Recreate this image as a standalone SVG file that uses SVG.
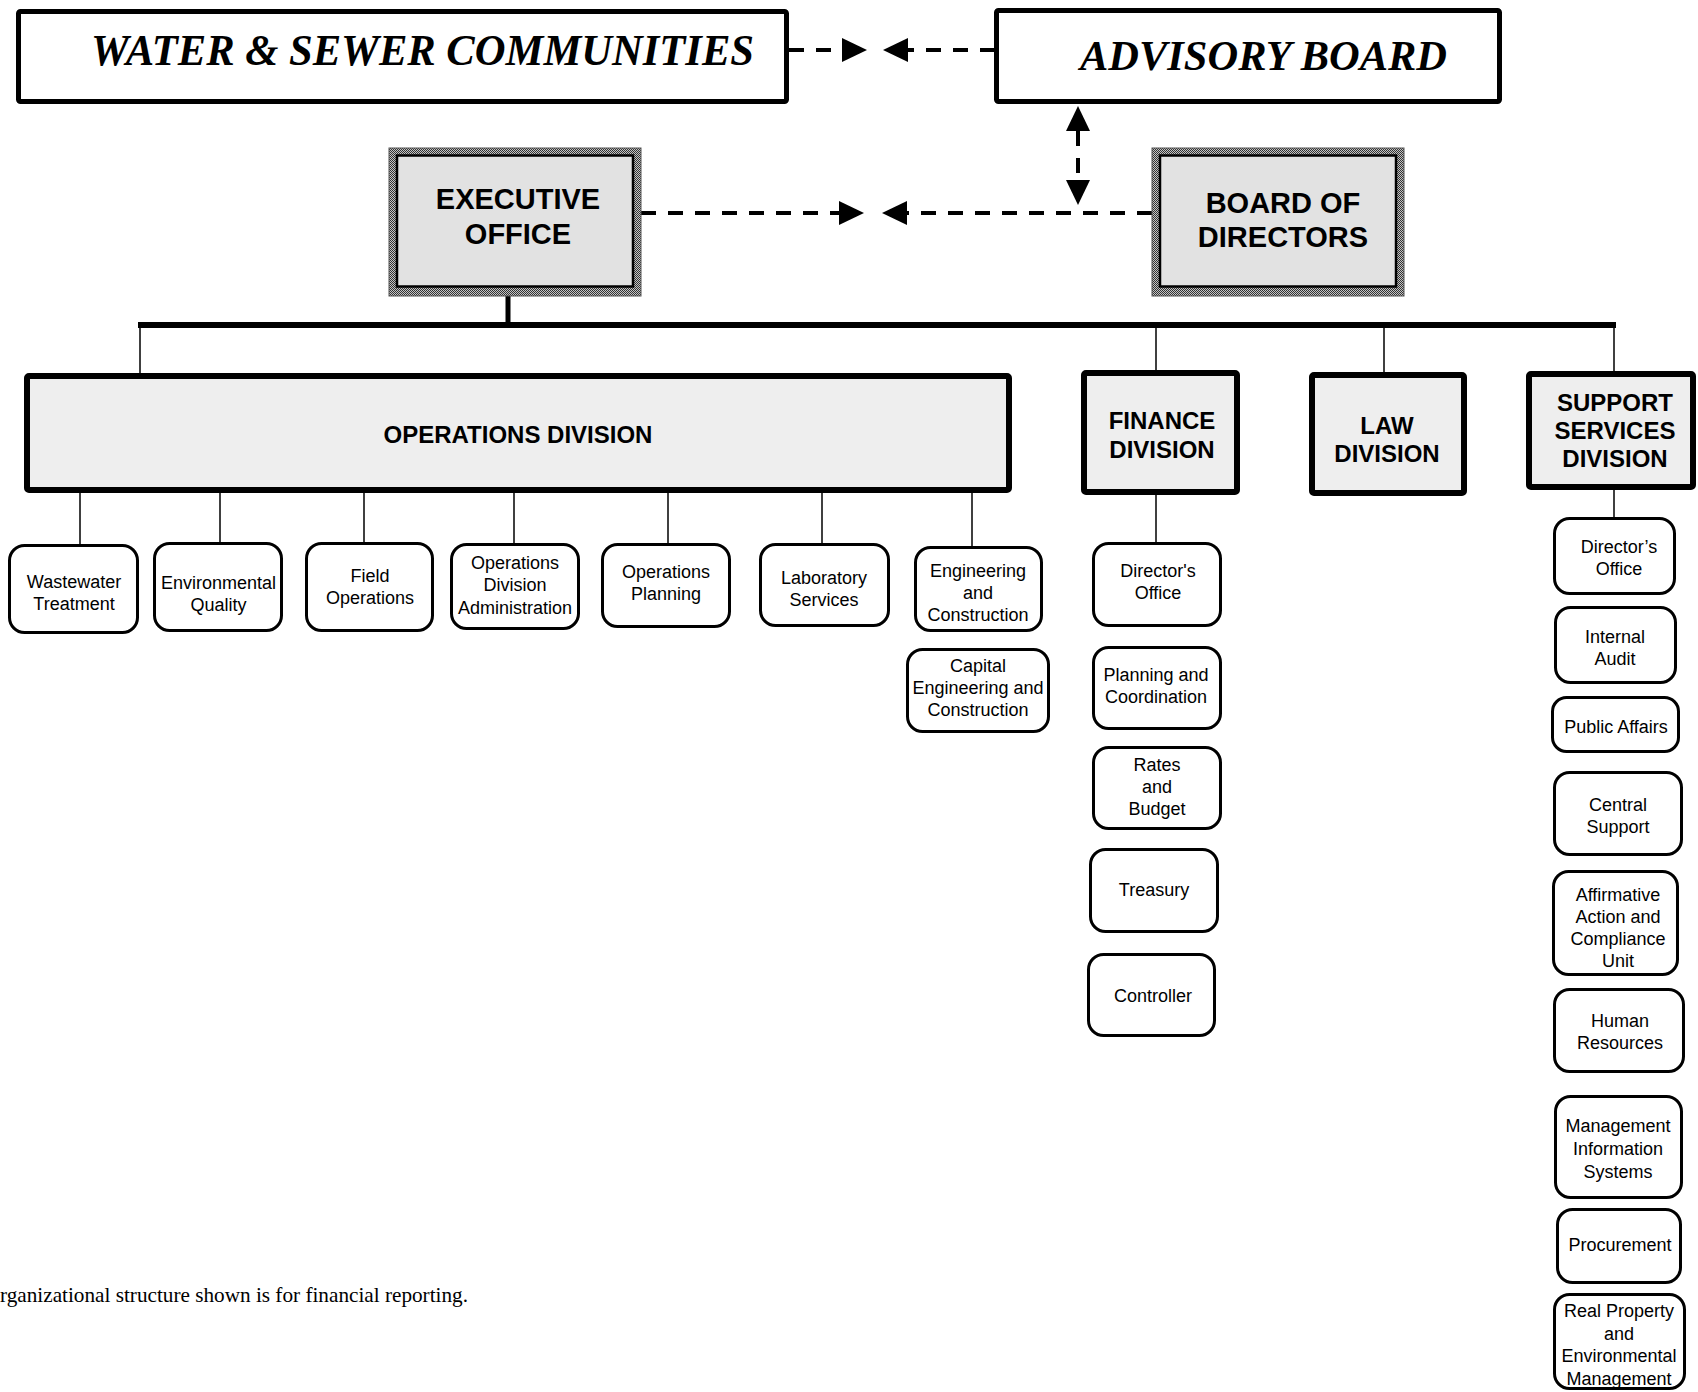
<svg xmlns="http://www.w3.org/2000/svg" width="1698" height="1392" viewBox="0 0 1698 1392">
<style>
.title{font-family:"Liberation Serif","Times New Roman",serif;font-weight:bold;font-style:italic;fill:#000}
.big{font-family:"Liberation Sans",Arial,sans-serif;font-weight:bold;font-size:29px;text-anchor:middle;fill:#000}
.div{font-family:"Liberation Sans",Arial,sans-serif;font-weight:bold;font-size:24px;text-anchor:middle;fill:#000}
.sub{font-family:"Liberation Sans",Arial,sans-serif;font-size:18px;text-anchor:middle;fill:#000}
.note{font-family:"Liberation Serif","Times New Roman",serif;font-size:21px;fill:#000}
.topbox{fill:#fff;stroke:#000;stroke-width:5}
.divbox{fill:#eeeeee;stroke:#000;stroke-width:6}
.subbox{fill:#fff;stroke:#000;stroke-width:3}
.frame{fill:url(#chk);stroke:#555;stroke-width:1}
.inner{fill:#e2e2e2;stroke:#000;stroke-width:2.5}
.dash{fill:none;stroke:#000;stroke-width:4;stroke-dasharray:15 12}
.thin{stroke:#000;stroke-width:1.5;fill:none}
.thick{stroke:#000;fill:none}
</style>
<defs>
<pattern id="chk" width="2" height="2" patternUnits="userSpaceOnUse">
<rect width="2" height="2" fill="#c4c4c4"/>
<rect width="1" height="1" fill="#333"/>
<rect x="1" y="1" width="1" height="1" fill="#333"/>
</pattern>
<marker id="arr" viewBox="0 0 25 24" refX="0" refY="12" markerWidth="25" markerHeight="24" markerUnits="userSpaceOnUse" orient="auto-start-reverse">
<path d="M0,0 L25,12 L0,24 Z" fill="#000"/>
</marker>
</defs>
<rect width="1698" height="1392" fill="#fff"/>

<g id="connectors">
<line class="dash" x1="789" y1="50" x2="842" y2="50" marker-end="url(#arr)"/>
<line class="dash" x1="995" y1="50" x2="908" y2="50" marker-end="url(#arr)"/>
<line class="dash" x1="641" y1="213" x2="839" y2="213" marker-end="url(#arr)"/>
<line class="dash" x1="1152" y1="213" x2="907" y2="213" marker-end="url(#arr)"/>
<line class="dash" x1="1078" y1="131" x2="1078" y2="180" marker-start="url(#arr)" marker-end="url(#arr)"/>
<line class="thick" stroke-width="5" x1="508" y1="296" x2="508" y2="325"/>
<line class="thick" stroke-width="6" x1="138" y1="325" x2="1616" y2="325"/>
<line class="thin" x1="140" y1="325" x2="140" y2="376"/>
<line class="thin" x1="1156" y1="325" x2="1156" y2="373"/>
<line class="thin" x1="1384" y1="325" x2="1384" y2="375"/>
<line class="thin" x1="1614" y1="325" x2="1614" y2="374"/>
<line class="thin" x1="80" y1="492" x2="80" y2="544"/>
<line class="thin" x1="220" y1="492" x2="220" y2="542"/>
<line class="thin" x1="364" y1="492" x2="364" y2="542"/>
<line class="thin" x1="514" y1="492" x2="514" y2="543"/>
<line class="thin" x1="668" y1="492" x2="668" y2="543"/>
<line class="thin" x1="822" y1="492" x2="822" y2="543"/>
<line class="thin" x1="972" y1="492" x2="972" y2="546"/>
<line class="thin" x1="1156" y1="495" x2="1156" y2="542"/>
<line class="thin" x1="1614" y1="490" x2="1614" y2="517"/>
</g>

<g id="water-sewer">
<rect class="topbox" x="18.5" y="11.5" width="768" height="90" rx="2"/>
<text class="title" x="91" y="65" font-size="45" textLength="663" lengthAdjust="spacingAndGlyphs">WATER &amp; SEWER COMMUNITIES</text>
</g>
<g id="advisory-board">
<rect class="topbox" x="996.5" y="10.5" width="503" height="91" rx="2"/>
<text class="title" x="1080" y="70" font-size="42" textLength="367" lengthAdjust="spacingAndGlyphs">ADVISORY BOARD</text>
</g>
<g id="executive-office">
<rect class="frame" x="389" y="148" width="252" height="148"/>
<rect class="inner" x="397" y="155.5" width="236" height="131"/>
<text class="big" x="518" y="209">EXECUTIVE</text>
<text class="big" x="518" y="244">OFFICE</text>
</g>
<g id="board-of-directors">
<rect class="frame" x="1152" y="148" width="252" height="148"/>
<rect class="inner" x="1160" y="155.5" width="236" height="131"/>
<text class="big" x="1283" y="213">BOARD OF</text>
<text class="big" x="1283" y="247">DIRECTORS</text>
</g>

<g id="operations-division">
<rect class="divbox" x="27" y="376" width="982" height="114" rx="2"/>
<text class="div" x="518" y="443">OPERATIONS DIVISION</text>
</g>
<g id="finance-division">
<rect class="divbox" x="1084" y="373" width="153" height="119" rx="2"/>
<text class="div" x="1162" y="429">FINANCE</text>
<text class="div" x="1162" y="458">DIVISION</text>
</g>
<g id="law-division">
<rect class="divbox" x="1312" y="375" width="152" height="118" rx="2"/>
<text class="div" x="1387" y="434">LAW</text>
<text class="div" x="1387" y="462">DIVISION</text>
</g>
<g id="support-services-division">
<rect class="divbox" x="1529" y="374" width="164" height="113" rx="2"/>
<text class="div" x="1615" y="411">SUPPORT</text>
<text class="div" x="1615" y="439">SERVICES</text>
<text class="div" x="1615" y="467">DIVISION</text>
</g>

<g id="wastewater-treatment">
<rect class="subbox" x="9.5" y="545.5" width="128" height="87" rx="15"/>
<text class="sub" x="74" y="588">Wastewater</text>
<text class="sub" x="74" y="610">Treatment</text>
</g>
<g id="environmental-quality">
<rect class="subbox" x="154.5" y="543.5" width="127" height="87" rx="15"/>
<text class="sub" x="218.5" y="589">Environmental</text>
<text class="sub" x="218.5" y="611">Quality</text>
</g>
<g id="field-operations">
<rect class="subbox" x="306.5" y="543.5" width="126" height="87" rx="15"/>
<text class="sub" x="370" y="582">Field</text>
<text class="sub" x="370" y="604">Operations</text>
</g>
<g id="operations-division-administration">
<rect class="subbox" x="451.5" y="544.5" width="127" height="84" rx="15"/>
<text class="sub" x="515" y="569">Operations</text>
<text class="sub" x="515" y="591">Division</text>
<text class="sub" x="515" y="614">Administration</text>
</g>
<g id="operations-planning">
<rect class="subbox" x="602.5" y="544.5" width="127" height="82" rx="15"/>
<text class="sub" x="666" y="578">Operations</text>
<text class="sub" x="666" y="600">Planning</text>
</g>
<g id="laboratory-services">
<rect class="subbox" x="760.5" y="544.5" width="128" height="81" rx="15"/>
<text class="sub" x="824" y="584">Laboratory</text>
<text class="sub" x="824" y="606">Services</text>
</g>
<g id="engineering-and-construction">
<rect class="subbox" x="915.5" y="547.5" width="126" height="83" rx="15"/>
<text class="sub" x="978" y="577">Engineering</text>
<text class="sub" x="978" y="599">and</text>
<text class="sub" x="978" y="621">Construction</text>
</g>
<g id="capital-engineering-and-construction">
<rect class="subbox" x="907.5" y="649.5" width="141" height="82" rx="15"/>
<text class="sub" x="978" y="672">Capital</text>
<text class="sub" x="978" y="694">Engineering and</text>
<text class="sub" x="978" y="716">Construction</text>
</g>

<g id="finance-directors-office">
<rect class="subbox" x="1093.5" y="543.5" width="127" height="82" rx="15"/>
<text class="sub" x="1158" y="577">Director's</text>
<text class="sub" x="1158" y="599">Office</text>
</g>
<g id="planning-and-coordination">
<rect class="subbox" x="1093.5" y="647.5" width="127" height="81" rx="15"/>
<text class="sub" x="1156" y="681">Planning and</text>
<text class="sub" x="1156" y="703">Coordination</text>
</g>
<g id="rates-and-budget">
<rect class="subbox" x="1093.5" y="747.5" width="127" height="81" rx="15"/>
<text class="sub" x="1157" y="771">Rates</text>
<text class="sub" x="1157" y="793">and</text>
<text class="sub" x="1157" y="815">Budget</text>
</g>
<g id="treasury">
<rect class="subbox" x="1090.5" y="849.5" width="127" height="82" rx="15"/>
<text class="sub" x="1154" y="896">Treasury</text>
</g>
<g id="controller">
<rect class="subbox" x="1088.5" y="954.5" width="126" height="81" rx="15"/>
<text class="sub" x="1153" y="1002">Controller</text>
</g>

<g id="support-directors-office">
<rect class="subbox" x="1554.5" y="518.5" width="120" height="75" rx="15"/>
<text class="sub" x="1619" y="553">Director’s</text>
<text class="sub" x="1619" y="575">Office</text>
</g>
<g id="internal-audit">
<rect class="subbox" x="1555.5" y="607.5" width="120" height="75" rx="15"/>
<text class="sub" x="1615" y="643">Internal</text>
<text class="sub" x="1615" y="665">Audit</text>
</g>
<g id="public-affairs">
<rect class="subbox" x="1552.5" y="697.5" width="126" height="54" rx="14"/>
<text class="sub" x="1616" y="733">Public Affairs</text>
</g>
<g id="central-support">
<rect class="subbox" x="1554.5" y="772.5" width="127" height="82" rx="15"/>
<text class="sub" x="1618" y="811">Central</text>
<text class="sub" x="1618" y="833">Support</text>
</g>
<g id="affirmative-action">
<rect class="subbox" x="1553.5" y="871.5" width="124" height="103" rx="15"/>
<text class="sub" x="1618" y="901">Affirmative</text>
<text class="sub" x="1618" y="923">Action and</text>
<text class="sub" x="1618" y="945">Compliance</text>
<text class="sub" x="1618" y="967">Unit</text>
</g>
<g id="human-resources">
<rect class="subbox" x="1554.5" y="989.5" width="129" height="82" rx="15"/>
<text class="sub" x="1620" y="1027">Human</text>
<text class="sub" x="1620" y="1049">Resources</text>
</g>
<g id="management-information-systems">
<rect class="subbox" x="1555.5" y="1096.5" width="126" height="101" rx="15"/>
<text class="sub" x="1618" y="1132">Management</text>
<text class="sub" x="1618" y="1155">Information</text>
<text class="sub" x="1618" y="1178">Systems</text>
</g>
<g id="procurement">
<rect class="subbox" x="1557.5" y="1209.5" width="123" height="73" rx="15"/>
<text class="sub" x="1620" y="1251">Procurement</text>
</g>
<g id="real-property">
<rect class="subbox" x="1554.5" y="1294.5" width="130" height="94" rx="15"/>
<text class="sub" x="1619" y="1317">Real Property</text>
<text class="sub" x="1619" y="1340">and</text>
<text class="sub" x="1619" y="1362">Environmental</text>
<text class="sub" x="1619" y="1385">Management</text>
</g>

<text class="note" x="0" y="1302" textLength="468" lengthAdjust="spacingAndGlyphs">rganizational structure shown is for financial reporting.</text>
</svg>
